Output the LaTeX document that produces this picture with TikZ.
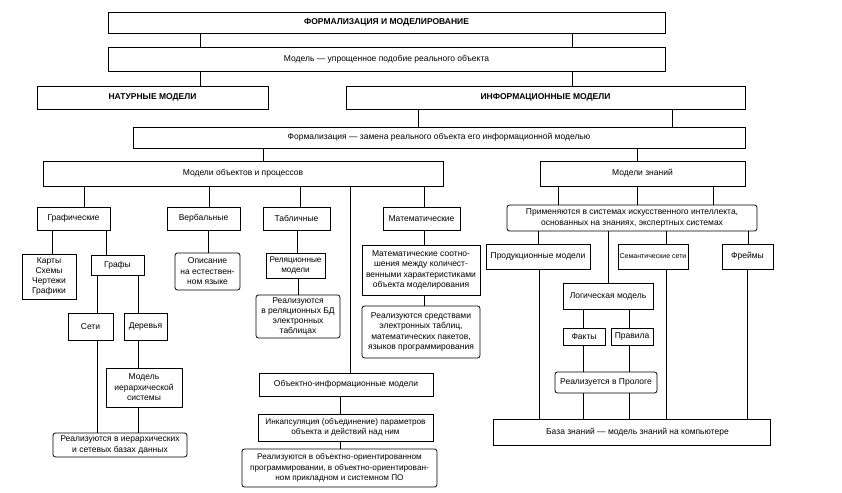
\documentclass[tikz,border=0pt]{standalone}
\usepackage{fontspec}
\setmainfont{Liberation Sans}
\newcommand\vcon[3]{\coordinate (vtmp) at (#3,0);\draw[ln] (#1.south -| vtmp) -- (#2.north -| vtmp);}
\begin{document}
\begin{tikzpicture}[x=1pt,y=-1pt,font=\fontsize{8.5}{10.5}\selectfont,
  box/.style={draw,line width=0.8pt,inner sep=1pt,align=center},
  rbox/.style={box,rounded corners=2.5pt},
  ttl/.style={box,font=\fontsize{8.5}{10}\selectfont\bfseries},
  ln/.style={line width=0.8pt}]
\useasboundingbox (0,0) rectangle (842,492);
\fill[white] (0,0) rectangle (842,492);
% top levels
\node[ttl,minimum width=557pt,minimum height=21pt] (A) at (386.5,22.5) {ФОРМАЛИЗАЦИЯ И МОДЕЛИРОВАНИЕ};
\node[box,minimum width=557pt,minimum height=24pt] (B) at (386.5,59) {Модель — упрощенное подобие реального объекта};
\node[ttl,minimum width=231pt,minimum height=23pt] (C) at (152.5,97.5) {НАТУРНЫЕ МОДЕЛИ};
\node[ttl,minimum width=399pt,minimum height=23pt] (D) at (545.5,97.5) {ИНФОРМАЦИОННЫЕ МОДЕЛИ};
\node[box,minimum width=612pt,minimum height=21pt] (E) at (439,137.5) {Формализация — замена реального объекта его информационной моделью};
\node[box,minimum width=400pt,minimum height=25pt] (F) at (243,173.5) {Модели объектов и процессов};
\node[box,minimum width=205pt,minimum height=25pt] (G) at (642.5,173.5) {Модели знаний};
% row 5
\node[box,minimum width=73pt,minimum height=23pt] (graf) at (73.5,218.5) {Графические};
\node[box,minimum width=73pt,minimum height=23pt] (verb) at (203.5,218.5) {Вербальные};
\node[box,minimum width=67pt,minimum height=23pt] (tabl) at (296.5,218.5) {Табличные};
\node[box,minimum width=77pt,minimum height=23pt] (mat) at (421.5,218.5) {Математические};
\node[rbox,minimum width=250pt,minimum height=26pt] (prim) at (632,218) {Применяются в системах искусственного интеллекта,\\основанных на знаниях, экспертных системах};
% row 6
\node[box,minimum width=54pt,minimum height=45pt,font=\fontsize{8.5}{9.8}\selectfont] (kart) at (49,276.5) {Карты\\Схемы\\Чертежи\\Графики};
\node[box,minimum width=53pt,minimum height=20pt] (grafy) at (117.5,265) {Графы};
\node[rbox,minimum width=65pt,minimum height=37pt] (opis) at (207.5,271.5) {Описание\\на естествен-\\ном языке};
\node[box,minimum width=59pt,minimum height=25pt,inner sep=0pt,font=\fontsize{8.2}{9.5}\selectfont] (rel) at (295.5,265.5) {Реляционные\\модели};
\node[box,minimum width=118pt,minimum height=50pt] (msoot) at (421,270) {Математические соотно-\\шения между количест-\\венными характеристиками\\объекта моделирования};
\node[box,minimum width=104pt,minimum height=25pt] (prod) at (538,256.5) {Продукционные модели};
\node[box,minimum width=70pt,minimum height=25pt,inner sep=0pt,font=\fontsize{7}{9}\selectfont] (sem) at (653,256.5) {Семантические сети};
\node[box,minimum width=51pt,minimum height=25pt] (frm) at (747.5,256.5) {Фреймы};
% row 7
\node[rbox,minimum width=84pt,minimum height=43pt,font=\fontsize{8.5}{9.8}\selectfont] (rrel) at (298,316.5) {Реализуются\\в реляционных БД\\электронных\\таблицах};
\node[rbox,minimum width=118pt,minimum height=52pt] (rsr) at (421,332) {Реализуются средствами\\электронных таблиц,\\математических пакетов,\\языков программирования};
\node[box,minimum width=90pt,minimum height=26pt] (log) at (608,296) {Логическая модель};
\node[box,minimum width=45pt,minimum height=27pt] (seti) at (90.5,326.5) {Сети};
\node[box,minimum width=43pt,minimum height=27pt] (der) at (145.5,326.5) {Деревья};
\node[box,minimum width=42pt,minimum height=17pt] (fakt) at (584,336.5) {Факты};
\node[box,minimum width=42pt,minimum height=17pt] (prav) at (632,336.5) {Правила};
\node[box,minimum width=76pt,minimum height=39pt] (mier) at (144,387.5) {Модель\\иерархической\\системы};
\node[rbox,minimum width=102pt,minimum height=21pt] (prol) at (606,382.5) {Реализуется в Прологе};
\node[box,minimum width=174pt,minimum height=23pt] (obj) at (346,384.5) {Объектно-информационные модели};
\node[box,minimum width=175pt,minimum height=27pt,inner sep=0pt,font=\fontsize{8.2}{10}\selectfont] (inc) at (345.5,427.5) {Инкапсуляция (объединение) параметров\\объекта и действий над ним};
\node[rbox,minimum width=134pt,minimum height=24pt] (rier) at (120,445) {Реализуются в иерархических\\и сетевых базах данных};
\node[box,minimum width=277pt,minimum height=26pt] (baza) at (631.5,432) {\hspace*{12pt}База знаний — модель знаний на компьютере};
\node[rbox,minimum width=195pt,minimum height=38pt,font=\fontsize{8.2}{10.5}\selectfont] (roop) at (339.5,468) {Реализуются в объектно-ориентированном\\программировании, в объектно-ориентирован-\\ном прикладном и системном ПО};
\draw[line width=1.5pt] (baza.north east) -- (baza.south east);
% connectors
\vcon{A}{B}{200}\vcon{A}{B}{572}
\vcon{B}{C}{200}\vcon{B}{D}{572}
\vcon{D}{E}{418}\vcon{D}{E}{672}
\vcon{E}{F}{263}\vcon{E}{G}{637}
\vcon{F}{graf}{84}\vcon{F}{verb}{209}\vcon{F}{tabl}{300}\vcon{F}{obj}{350}\vcon{F}{mat}{424}
\vcon{G}{prim}{558}\vcon{G}{prim}{637}\vcon{G}{prim}{713}
\vcon{graf}{kart}{52}\vcon{graf}{grafy}{106}
\vcon{verb}{opis}{208}
\vcon{tabl}{rel}{297}\vcon{rel}{rrel}{298}
\vcon{mat}{msoot}{424}\vcon{msoot}{rsr}{424}
\vcon{prim}{prod}{538}\vcon{prim}{log}{608}\vcon{prim}{sem}{666}\vcon{prim}{frm}{748}
\vcon{grafy}{seti}{97}\vcon{grafy}{der}{138}
\vcon{seti}{rier}{97}\vcon{der}{mier}{138}\vcon{mier}{rier}{138}
\vcon{obj}{inc}{340}\vcon{inc}{roop}{340}
\vcon{log}{fakt}{583}\vcon{log}{prav}{629}
\vcon{fakt}{prol}{583}\vcon{prav}{prol}{629}
\vcon{prol}{baza}{583}\vcon{prol}{baza}{629}
\vcon{prod}{baza}{539}\vcon{sem}{baza}{666}\vcon{frm}{baza}{747}
\end{tikzpicture}
\end{document}
